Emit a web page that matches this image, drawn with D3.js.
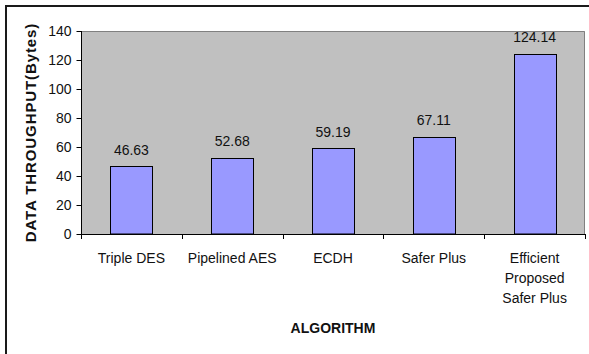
<!DOCTYPE html>
<html>
<head>
<meta charset="utf-8">
<script src="https://cdn.jsdelivr.net/npm/d3@7/dist/d3.min.js"></script>
<style>
  html, body { margin: 0; padding: 0; background: #fff; }
  svg { display: block; font-family: "Liberation Sans", Arial, sans-serif; }
</style>
</head>
<body>
<svg id="chart" width="589" height="354"></svg>
<script>
// Throughput per algorithm ("\n" marks where a category label wraps)
const categories = ["Triple DES", "Pipelined AES", "ECDH", "Safer Plus", "Efficient\nProposed\nSafer Plus"];
const throughput = [46.63, 52.68, 59.19, 67.11, 124.14];
const yTicks = [0, 20, 40, 60, 80, 100, 120, 140];
const yTitle = "DATA THROUGHPUT(Bytes)";
const xTitle = "ALGORITHM";

const svg = d3.select("#chart");
const plot = { left: 81, top: 31, right: 585, bottom: 234 };

// Outer frame (only top and left edges fall inside the image)
svg.append("path")
  .attr("d", `M6,354 V6 H589`)
  .attr("fill", "none").attr("stroke", "#1a1a1a").attr("stroke-width", 2);

const y = d3.scaleLinear().domain([0, 140]).range([plot.bottom, plot.top]);
const slot = d3.scaleBand().domain(categories).range([plot.left, plot.right]).padding(0);
const xBar = d3.scaleBand().domain(categories).range([plot.left, plot.right])
  .paddingInner(0.585).paddingOuter(0.2925);

// Plot background
svg.append("rect")
  .attr("x", plot.left).attr("y", plot.top)
  .attr("width", plot.right - plot.left).attr("height", plot.bottom - plot.top)
  .attr("fill", "#c0c0c0");
svg.append("path")
  .attr("d", `M${plot.left},${plot.top + 0.5} H${plot.right - 0.5} V${plot.bottom}`)
  .attr("fill", "none").attr("stroke", "#808080").attr("stroke-width", 1);

// Bars
svg.selectAll("rect.bar").data(throughput).enter().append("rect")
  .attr("class", "bar")
  .attr("x", (d, i) => Math.round(xBar(categories[i])) + 0.5)
  .attr("y", d => Math.round(y(d)) + 0.5)
  .attr("width", Math.round(xBar.bandwidth()))
  .attr("height", d => y(0) - Math.round(y(d)) - 0.5)
  .attr("fill", "#9999ff").attr("stroke", "#000").attr("stroke-width", 1);

// Value labels
svg.selectAll("text.val").data(throughput).enter().append("text")
  .attr("class", "val")
  .attr("x", (d, i) => xBar(categories[i]) + xBar.bandwidth() / 2)
  .attr("y", d => y(d) - 11.5)
  .attr("text-anchor", "middle")
  .attr("font-size", 14).attr("fill", "#111")
  .text(d => d.toFixed(2));

// Y axis
const yAxis = d3.axisLeft(y).tickValues(yTicks).tickSize(5).tickPadding(5).tickFormat(d3.format("d"));
const gy = svg.append("g").attr("transform", `translate(${plot.left + 0.5},0)`).call(yAxis);
gy.select(".domain").attr("stroke", "#000").attr("d", `M0,${plot.top} V${plot.bottom}`);
gy.selectAll(".tick line").attr("stroke", "#000");
gy.selectAll(".tick text").attr("font-size", 14).attr("font-family", "Liberation Sans, Arial, sans-serif").attr("fill", "#111");

// X axis line and ticks at category boundaries
const gx = svg.append("g");
gx.append("line")
  .attr("x1", plot.left).attr("x2", plot.right + 1)
  .attr("y1", plot.bottom + 0.5).attr("y2", plot.bottom + 0.5)
  .attr("stroke", "#000");
const bounds = categories.map(c => slot(c)).concat([plot.right]);
gx.selectAll("line.tk").data(bounds).enter().append("line")
  .attr("class", "tk")
  .attr("x1", d => Math.round(d) + 0.5).attr("x2", d => Math.round(d) + 0.5)
  .attr("y1", plot.bottom).attr("y2", plot.bottom + 5)
  .attr("stroke", "#000");

// Category labels, one tspan per line
const labels = gx.selectAll("text.cat").data(categories).enter().append("text")
  .attr("class", "cat")
  .attr("text-anchor", "middle")
  .attr("font-size", 14).attr("fill", "#111")
  .attr("y", 263);
labels.each(function (c) {
  const t = d3.select(this);
  const cx = slot(c) + slot.bandwidth() / 2;
  c.split("\n").forEach((ln, i) => {
    t.append("tspan").attr("x", cx).attr("dy", i === 0 ? 0 : 20).text(ln);
  });
});

// Axis titles
svg.append("text")
  .attr("x", (plot.left + plot.right) / 2).attr("y", 333)
  .attr("text-anchor", "middle").attr("font-size", 14).attr("font-weight", "bold").attr("fill", "#111")
  .text(xTitle);
svg.append("text")
  .attr("transform", `translate(35.5,${(plot.top + plot.bottom) / 2}) rotate(-90)`)
  .attr("text-anchor", "middle").attr("font-size", 15).attr("font-weight", "bold")
  .attr("letter-spacing", 0.9).attr("fill", "#111")
  .text(yTitle);
</script>
</body>
</html>
